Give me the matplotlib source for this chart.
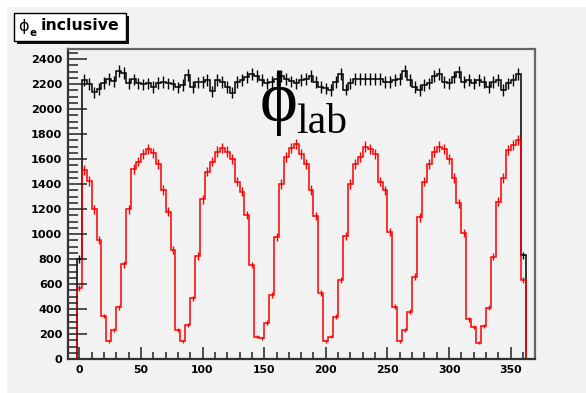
import numpy as np
import matplotlib
matplotlib.use("Agg")
import matplotlib.pyplot as plt
from matplotlib.patches import Rectangle
from matplotlib.ticker import MultipleLocator

W, H = 586, 393

# bins of 4 degrees centred on 0, 4, ..., 360
bin_edges = np.arange(-2, 363, 4)
bin_centers = np.arange(0, 361, 4)

# red histogram (phi_lab)
red_counts = [
    565, 1512, 1425, 1197, 952, 344, 144, 232, 413, 757,
    1197, 1520, 1580, 1640, 1680, 1650, 1560, 1352, 1179, 872,
    232, 144, 272, 485, 824, 1277, 1500, 1580, 1660, 1690,
    1660, 1600, 1420, 1339, 1152, 752, 179, 165, 291, 512,
    979, 1400, 1620, 1690, 1720, 1640, 1560, 1352, 1144, 531,
    144, 179, 339, 632, 984, 1400, 1560, 1620, 1700, 1680,
    1640, 1420, 1350, 1019, 419, 144, 232, 379, 659, 1133,
    1420, 1560, 1660, 1700, 1680, 1600, 1450, 1245, 1005, 317,
    259, 131, 264, 411, 819, 1259, 1450, 1672, 1712, 1752,
    632,
]

# black histogram (inclusive)
black_counts = [
    800, 2232, 2200, 2133, 2160, 2208, 2240, 2221, 2307, 2290,
    2205, 2237, 2205, 2197, 2205, 2179, 2211, 2219, 2205, 2197,
    2173, 2192, 2272, 2179, 2213, 2219, 2232, 2141, 2232, 2219,
    2179, 2131, 2219, 2232, 2253, 2280, 2267, 2232, 2205, 2219,
    2240, 2267, 2240, 2221, 2205, 2232, 2240, 2261, 2219, 2179,
    2165, 2152, 2219, 2280, 2155, 2205, 2240, 2240, 2240, 2240,
    2240, 2240, 2219, 2219, 2232, 2240, 2301, 2232, 2179, 2152,
    2192, 2205, 2267, 2280, 2219, 2205, 2253, 2293, 2219, 2232,
    2205, 2232, 2219, 2179, 2219, 2232, 2152, 2205, 2232, 2280,
    830,
]

x_ticks = [0, 50, 100, 150, 200, 250, 300, 350]
y_ticks = list(range(0, 2401, 200))

bg = "#f2f2f2"


def px(x, y):
    return x / W, 1 - y / H


fig = plt.figure(figsize=(W / 100, H / 100), dpi=100)
fig.patch.set_facecolor("white")
fig.patches.append(Rectangle(px(7, H), (W - 7) / W, (H - 7) / H,
                             transform=fig.transFigure, facecolor=bg,
                             edgecolor="none", zorder=-10))

l, r, t, b = 67.7, 535, 49.3, 359
ax = fig.add_axes([l / W, 1 - b / H, (r - l) / W, (b - t) / H])
ax.set_facecolor(bg)
ax.set_xlim(-9.4, 369.7)
ax.set_ylim(0, 2478)


def draw_hist(counts, color):
    counts = np.array(counts, float)
    ax.stairs(counts, bin_edges, color=color, lw=1.1, baseline=0, fill=False)
    err = np.sqrt(counts)
    ax.vlines(bin_centers, counts - err, counts + err, color=color, lw=1.0)


draw_hist(black_counts, "black")
draw_hist(red_counts, "#ff0000")

for side in ["left", "bottom"]:
    ax.spines[side].set_color("#333333")
    ax.spines[side].set_linewidth(1.6)
for side in ["top", "right"]:
    ax.spines[side].set_color("#666666")
    ax.spines[side].set_linewidth(1.6)

ax.set_xticks(x_ticks)
ax.set_yticks(y_ticks)
ax.xaxis.set_minor_locator(MultipleLocator(10))
ax.yaxis.set_minor_locator(MultipleLocator(50))
ax.tick_params(axis="both", which="both", direction="in", color="#222222",
               width=1.1, top=False, right=False)
ax.tick_params(axis="x", which="major", length=9, pad=4)
ax.tick_params(axis="x", which="minor", length=5)
ax.tick_params(axis="y", which="major", length=14, pad=4)
ax.tick_params(axis="y", which="minor", length=7)
for lab in ax.get_xticklabels():
    lab.set_fontfamily("DejaVu Sans")
    lab.set_fontweight("bold")
    lab.set_fontsize(7.8)
for lab in ax.get_yticklabels():
    lab.set_fontfamily("DejaVu Sans")
    lab.set_fontweight("bold")
    lab.set_fontsize(8.1)

# title box with shadow
fig.patches.append(Rectangle(px(17, 43.5), 112 / W, 27.7 / H,
                             transform=fig.transFigure, facecolor="#111111",
                             edgecolor="none", zorder=3))
fig.patches.append(Rectangle(px(14, 40.7), 112 / W, 27.7 / H,
                             transform=fig.transFigure, facecolor="white",
                             edgecolor="black", lw=1.0, zorder=4))
fig.text(*px(18, 31), "\u03d5", fontsize=11.5, family="DejaVu Sans",
         va="baseline", ha="left", zorder=5)
fig.text(*px(29, 36.5), "e", fontsize=7.5, family="DejaVu Sans",
         fontweight="bold", va="baseline", ha="left", zorder=5)
fig.text(*px(41, 30), "inclusive", fontsize=11.3, family="DejaVu Sans",
         fontweight="bold", va="baseline", ha="left", zorder=5)

# phi_lab label
fig.text(*px(260, 121), "\u03d5", fontsize=52,
         family=["Liberation Serif", "DejaVu Serif"],
         va="baseline", ha="left", zorder=5)
fig.text(*px(296, 133), "lab", fontsize=30, family="Liberation Serif",
         va="baseline", ha="left", zorder=5)

fig.savefig("out.png", dpi=100, facecolor=fig.get_facecolor())
